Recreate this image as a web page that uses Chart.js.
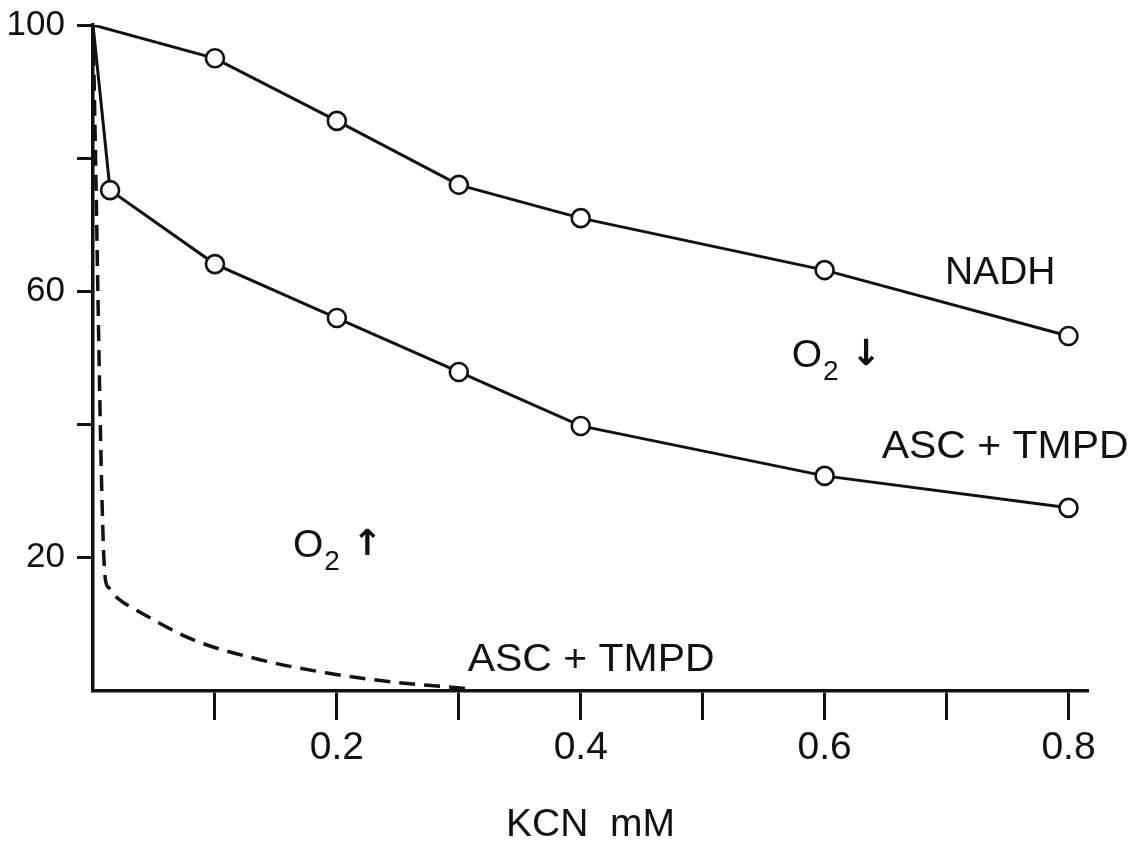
<!DOCTYPE html>
<html>
<head>
<meta charset="utf-8">
<script src="https://cdn.jsdelivr.net/npm/chart.js@4.4.1/dist/chart.umd.min.js"></script>
<style>
  html, body { margin: 0; padding: 0; background: #fff; }
  canvas { display: block; }
</style>
</head>
<body>
<canvas id="chart" width="1133" height="853"></canvas>
<script>
// KCN (mM) vs. activity (%)
const nadhKcn = [0, 0.1, 0.2, 0.3, 0.4, 0.6, 0.8];
const nadhO2Down = [100, 95, 85.6, 76, 71, 63.2, 53.3];

const ascKcn = [0, 0.014, 0.1, 0.2, 0.3, 0.4, 0.6, 0.8];
const ascO2Down = [100, 75.2, 64.1, 56, 47.9, 39.8, 32.3, 27.5];

const ascUpKcn = [0, 0.0098, 0.0125, 0.017, 0.024, 0.036, 0.082, 0.137, 0.192, 0.246, 0.301, 0.311];
const ascO2Up = [100, 17.3, 15.6, 14.5, 13.4, 12.1, 7.7, 4.7, 2.7, 1.35, 0.45, 0.3];

const xTicks = [0.1, 0.2, 0.3, 0.4, 0.5, 0.6, 0.7, 0.8];
const xTickLabels = ['', '0.2', '', '0.4', '', '0.6', '', '0.8'];
const yTicks = [20, 40, 60, 80, 100];
const yTickLabels = ['20', '', '60', '', '100'];

const FONT = 'Liberation Sans';
const INK = '#111';

// curve labels, placed in data units
const notes = [
  { text: 'NADH', x: 0.744, y: 62.8 },
  { text: 'ASC + TMPD', x: 0.748, y: 36.6 },
  { text: 'ASC + TMPD', x: 0.4085, y: 4.65 }
];
const o2Notes = [
  { arrow: '\u2193', x: 0.573, y: 50.3 },
  { arrow: '\u2191', x: 0.164, y: 21.8 }
];

const toXY = (xs, ys) => xs.map((x, i) => ({ x, y: ys[i] }));

const notesPlugin = {
  id: 'notes',
  afterDatasetsDraw(chart) {
    const { ctx, scales: { x, y } } = chart;
    ctx.save();
    ctx.fillStyle = INK;
    ctx.textBaseline = 'middle';
    ctx.font = `39px "${FONT}"`;
    ctx.textAlign = 'center';
    notes.forEach(n => {
      const px = x.getPixelForValue(n.x);
      const py = y.getPixelForValue(n.y);
      if (n.text.includes('+')) {
        // spread slightly like the hand lettering
        ctx.save();
        ctx.translate(px, py);
        ctx.scale(1.05, 1);
        ctx.fillText(n.text, 0, 0);
        ctx.restore();
      } else {
        ctx.fillText(n.text, px, py);
      }
    });
    ctx.textAlign = 'left';
    o2Notes.forEach(n => {
      const px = x.getPixelForValue(n.x);
      const py = y.getPixelForValue(n.y);
      ctx.font = `39px "${FONT}"`;
      ctx.fillText('O', px, py);
      const w = ctx.measureText('O').width;
      ctx.font = `28px "${FONT}"`;
      ctx.fillText('2', px + w + 1, py + 16);
      ctx.font = `bold 36px "DejaVu Sans"`;
      ctx.fillText(n.arrow, px + w + 29, py);
    });
    ctx.restore();
  }
};

const pointStyle = (n) => ({
  pointRadius: Array.from({ length: n }, (_, i) => (i === 0 ? 0 : 9)),
  pointBackgroundColor: '#fff',
  pointBorderColor: INK,
  pointBorderWidth: 2.6
});

new Chart(document.getElementById('chart'), {
  type: 'line',
  data: {
    datasets: [{
      label: 'NADH',
      data: toXY(nadhKcn, nadhO2Down),
      borderColor: INK,
      borderWidth: 3,
      tension: 0,
      ...pointStyle(nadhKcn.length)
    }, {
      label: 'ASC + TMPD',
      data: toXY(ascKcn, ascO2Down),
      borderColor: INK,
      borderWidth: 3,
      tension: 0,
      ...pointStyle(ascKcn.length)
    }, {
      label: 'ASC + TMPD (O2 up)',
      data: toXY(ascUpKcn, ascO2Up),
      borderColor: INK,
      borderWidth: 3.5,
      borderDash: [16, 9],
      cubicInterpolationMode: 'monotone',
      pointRadius: 0
    }]
  },
  options: {
    responsive: false,
    animation: false,
    layout: {
      padding: { left: 0, top: 25, right: 45, bottom: 0 }
    },
    plugins: {
      legend: { display: false },
      tooltip: { enabled: false }
    },
    scales: {
      x: {
        type: 'linear',
        min: 0,
        max: 0.816,
        afterFit: (scale) => { scale.height = 162; scale.paddingLeft = 0; scale.paddingRight = 0; },
        afterBuildTicks: (scale) => { scale.ticks = xTicks.map(v => ({ value: v })); },
        border: { display: true, color: INK, width: 3.5 },
        grid: {
          drawOnChartArea: false,
          drawTicks: true,
          tickLength: 29,
          tickWidth: 3,
          tickColor: INK
        },
        ticks: {
          color: INK,
          padding: 5,
          maxRotation: 0,
          autoSkip: false,
          font: { family: FONT, size: 39 },
          callback: (v, i) => xTickLabels[i]
        },
        title: {
          display: true,
          text: 'KCN  mM',
          color: INK,
          font: { family: FONT, size: 39 }
        }
      },
      y: {
        min: 0,
        max: 100,
        afterFit: (scale) => { scale.width = 93; scale.paddingTop = 0; scale.paddingBottom = 0; },
        afterBuildTicks: (scale) => { scale.ticks = yTicks.map(v => ({ value: v })); },
        border: { display: true, color: INK, width: 3.5 },
        grid: {
          drawOnChartArea: false,
          drawTicks: true,
          tickLength: 16,
          tickWidth: 3,
          tickColor: INK
        },
        ticks: {
          color: INK,
          padding: 12,
          autoSkip: false,
          font: { family: FONT, size: 35 },
          callback: (v, i) => yTickLabels[i]
        }
      }
    }
  },
  plugins: [notesPlugin]
});
</script>
</body>
</html>
